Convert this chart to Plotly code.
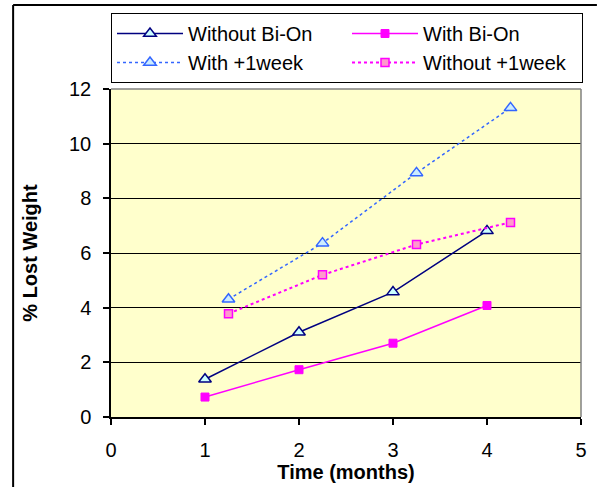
import plotly.graph_objects as go

# Data
x_main = [1, 2, 3, 4]
without_bion = [1.38, 3.10, 4.57, 6.81]
with_bion = [0.73, 1.73, 2.70, 4.08]
x_week = [1.25, 2.25, 3.25, 4.25]
with_week = [4.31, 6.36, 8.93, 11.31]
without_week = [3.78, 5.20, 6.31, 7.12]

FONT = "Liberation Sans, Arial, sans-serif"

fig = go.Figure()
fig.add_trace(go.Scatter(
    x=x_main, y=without_bion, name="Without Bi-On", mode="lines+markers",
    line=dict(color="#000080", width=1.5),
    marker=dict(symbol="triangle-up", size=11, color="#CCFFFF",
                line=dict(color="#000080", width=1.5))))
fig.add_trace(go.Scatter(
    x=x_main, y=with_bion, name="With Bi-On", mode="lines+markers",
    line=dict(color="#FF00FF", width=1.5),
    marker=dict(symbol="square", size=8, color="#FF00FF",
                line=dict(color="#FF00FF", width=1))))
fig.add_trace(go.Scatter(
    x=x_week, y=with_week, name="With +1week", mode="lines+markers",
    line=dict(color="#3366FF", width=1.5, dash="dot"),
    marker=dict(symbol="triangle-up", size=11, color="#CCECFF",
                line=dict(color="#3366FF", width=1.5))))
fig.add_trace(go.Scatter(
    x=x_week, y=without_week, name="Without +1week", mode="lines+markers",
    line=dict(color="#FF00FF", width=2, dash="dot"),
    marker=dict(symbol="square", size=8, color="#FF99CC",
                line=dict(color="#FF00FF", width=1.5))))

W, H = 599, 487
L, R, T, B = 111, 15, 89, 70
pw, ph = W - L - R, H - T - B

def px(xp):
    return (xp - L) / pw

def py(yp):
    return (H - B - yp) / ph

fig.update_layout(
    width=W, height=H,
    margin=dict(l=L, r=R, t=T, b=B, pad=0),
    paper_bgcolor="white", plot_bgcolor="#FFFFCC",
    font=dict(family=FONT, size=20, color="black"),
    showlegend=True,
    legend=dict(orientation="h", x=px(111), y=py(13), xanchor="left", yanchor="top",
                bordercolor="black", borderwidth=1, bgcolor="white",
                entrywidth=154, entrywidthmode="pixels",
                font=dict(size=20), tracegroupgap=0, itemwidth=66),
    xaxis=dict(range=[0, 5], dtick=1, tick0=0, showgrid=False, zeroline=False,
               showline=True, linecolor="black", linewidth=1.5,
               ticks="outside", ticklen=6, tickcolor="black", tickwidth=1.5,
               ticklabelstandoff=8,
               title=dict(text="<b>Time (months)</b>", font=dict(size=20), standoff=0)),
    yaxis=dict(range=[0, 12], dtick=2, tick0=0, showgrid=True, gridcolor="black", gridwidth=1,
               zeroline=False, showline=True, linecolor="black", linewidth=1.5,
               ticks="outside", ticklen=6, tickcolor="black", tickwidth=1.5,
               ticklabelstandoff=8,
               title=dict(text="<b>% Lost Weight</b>", font=dict(size=20), standoff=26)),
    shapes=[
        # plot area top/right gray border
        dict(type="line", xref="paper", yref="paper", x0=0, x1=1, y0=1, y1=1,
             line=dict(color="#808080", width=1.5)),
        dict(type="line", xref="paper", yref="paper", x0=1, x1=1, y0=0, y1=1,
             line=dict(color="#808080", width=1.5)),
        # outer chart frame (top and left)
        dict(type="line", xref="paper", yref="paper", x0=px(12.5), x1=px(600), y0=py(5), y1=py(5),
             line=dict(color="black", width=2)),
        dict(type="line", xref="paper", yref="paper", x0=px(12.5), x1=px(12.5), y0=py(5), y1=py(488),
             line=dict(color="black", width=2)),
    ],
)

fig.write_html("out.html")
